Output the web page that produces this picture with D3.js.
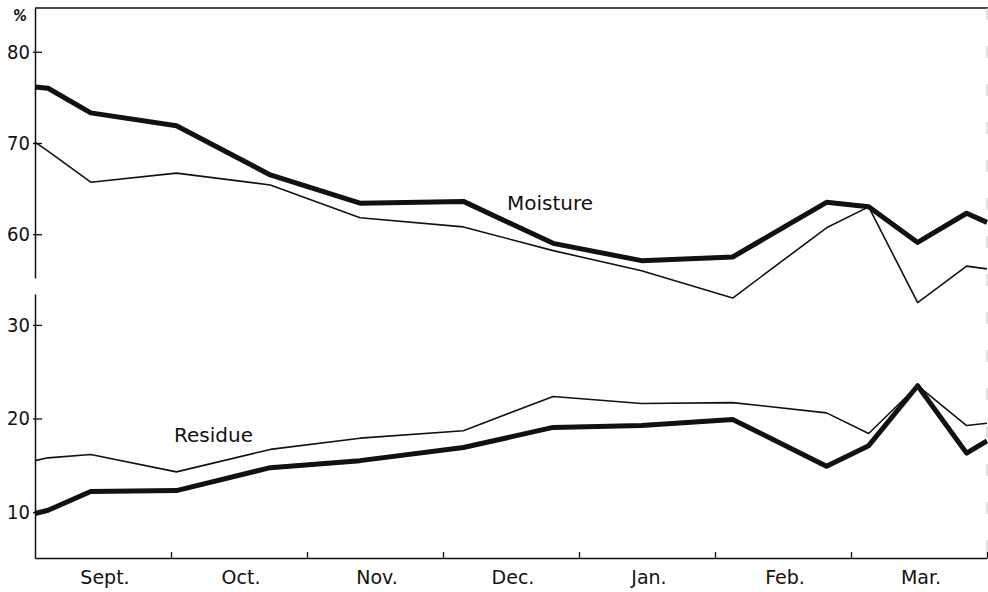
<!DOCTYPE html>
<html>
<head>
<meta charset="utf-8">
<script src="https://cdn.jsdelivr.net/npm/d3@7"></script>
<style>
  html, body { margin: 0; padding: 0; background: #fff; }
  svg { display: block; }
  text { fill: #111; }
</style>
</head>
<body>
<svg id="chart" width="988" height="592"></svg>
<script>
// Sampling dates, in months from 1 September (0) to 1 April (7)
const sampleMonths = [0, 0.096, 0.41, 1.04, 1.73, 2.39, 3.15, 3.81, 4.46, 5.13, 5.82, 6.13, 6.49, 6.85, 7.0];

// Moisture, % (heavy and light curves)
const moistureHeavy = [76.15, 76.0, 73.3, 71.9, 66.5, 63.4, 63.6, 59.0, 57.1, 57.5, 63.5, 63.0, 59.1, 62.3, 61.3];
const moistureLight = [70.1, 69.1, 65.7, 66.7, 65.4, 61.8, 60.8, 58.2, 56.0, 53.0, 60.7, 63.0, 52.5, 56.5, 56.2];

// Residue, % (heavy and light curves)
const residueHeavy = [9.85, 10.2, 12.2, 12.3, 14.75, 15.5, 16.9, 19.05, 19.25, 19.9, 14.9, 17.1, 23.5, 16.3, 17.6];
const residueLight = [15.5, 15.8, 16.15, 14.3, 16.7, 17.9, 18.7, 22.35, 21.6, 21.7, 20.6, 18.4, 23.5, 19.25, 19.5];

// Axis labels
const monthLabels = ["Sept.", "Oct.", "Nov.", "Dec.", "Jan.", "Feb.", "Mar."];
const upperTicks = [60, 70, 80];
const lowerTicks = [10, 20, 30];
const upperExtent = [55.2, 84.8];
const lowerExtent = [5.1, 33.3];

const svg = d3.select("#chart");
const ink = "#111";

const x = d3.scaleLinear().domain([0, 7]).range([35, 987]);
const yUpper = d3.scaleLinear().domain(upperExtent).range([278, 8]);
const yLower = d3.scaleLinear().domain(lowerExtent).range([558, 294]);

// Frame: top rule and faint right edge
svg.append("line")
  .attr("x1", x(0)).attr("x2", 988)
  .attr("y1", yUpper(upperExtent[1])).attr("y2", yUpper(upperExtent[1]))
  .attr("stroke", ink).attr("stroke-width", 1.4);
svg.append("line")
  .attr("x1", 987).attr("x2", 987)
  .attr("y1", yUpper(upperExtent[1])).attr("y2", yLower(lowerExtent[0]))
  .attr("stroke", "#c4c4c4").attr("stroke-width", 1)
  .attr("stroke-dasharray", "12 26");

// Broken value axis: two segments
function styleAxis(g) {
  g.select(".domain").attr("stroke", ink).attr("stroke-width", 1.5);
  g.selectAll(".tick line").attr("stroke", ink).attr("stroke-width", 1.3).attr("x1", -2);
  g.selectAll(".tick text")
    .attr("fill", ink)
    .style("font-family", "'DejaVu Sans Condensed', 'DejaVu Sans', sans-serif")
    .style("font-size", "20px");
}

svg.append("g")
  .attr("transform", `translate(${x(0)},0)`)
  .call(d3.axisLeft(yUpper).tickValues(upperTicks).tickSize(-7).tickSizeOuter(0).tickPadding(5))
  .call(styleAxis);

svg.append("g")
  .attr("transform", `translate(${x(0)},0)`)
  .call(d3.axisLeft(yLower).tickValues(lowerTicks).tickSize(-7).tickSizeOuter(0).tickPadding(5))
  .call(styleAxis);

// Unit mark
svg.append("text")
  .attr("x", 20).attr("y", 21)
  .attr("text-anchor", "middle")
  .style("font-family", "'DejaVu Sans Condensed', 'DejaVu Sans', sans-serif")
  .style("font-size", "15px")
  .style("font-weight", "bold")
  .style("font-style", "italic")
  .text("%");

// Time axis with month boundaries
const xAxis = svg.append("g")
  .attr("transform", `translate(0,${yLower(lowerExtent[0])})`)
  .call(d3.axisBottom(x).tickValues([1, 2, 3, 4, 5, 6, 7]).tickSize(-6).tickSizeOuter(0).tickFormat(""));
xAxis.select(".domain").attr("stroke", ink).attr("stroke-width", 1.5);
xAxis.selectAll(".tick line").attr("stroke", ink).attr("stroke-width", 1.3);

svg.append("g").selectAll("text")
  .data(monthLabels)
  .join("text")
  .attr("x", (d, i) => x(i + 0.5) + 2)
  .attr("y", 584)
  .attr("text-anchor", "middle")
  .style("font-family", "'DejaVu Sans', sans-serif")
  .style("font-size", "19px")
  .text(d => d);

// Curves
function drawCurve(values, yScale, width) {
  const line = d3.line()
    .x((d, i) => x(sampleMonths[i]))
    .y(d => yScale(d));
  svg.append("path")
    .datum(values)
    .attr("d", line)
    .attr("fill", "none")
    .attr("stroke", ink)
    .attr("stroke-width", width)
    .attr("stroke-linejoin", "round")
    .attr("stroke-linecap", "butt");
}

drawCurve(moistureLight, yUpper, 1.6);
drawCurve(moistureHeavy, yUpper, 5);
drawCurve(residueLight, yLower, 1.6);
drawCurve(residueHeavy, yLower, 5);

// Curve labels
svg.append("text")
  .attr("x", 507).attr("y", 210)
  .style("font-family", "'DejaVu Sans', sans-serif")
  .style("font-size", "20px")
  .text("Moisture");

svg.append("text")
  .attr("x", 174).attr("y", 442)
  .style("font-family", "'DejaVu Sans', sans-serif")
  .style("font-size", "20px")
  .text("Residue");
</script>
</body>
</html>
